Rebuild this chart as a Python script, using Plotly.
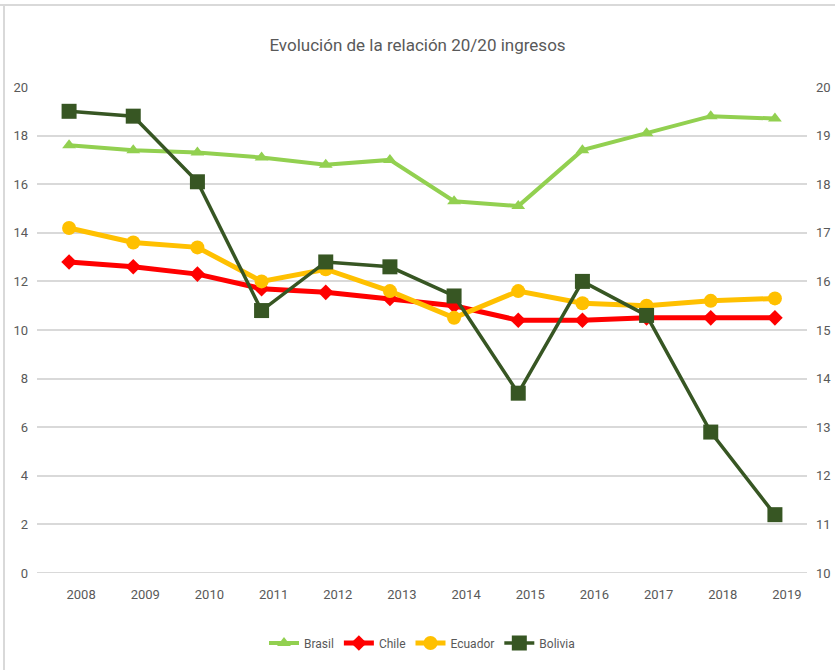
import plotly.graph_objects as go

years = ["2008", "2009", "2010", "2011", "2012", "2013", "2014", "2015", "2016", "2017", "2018", "2019"]
brasil = [17.6, 17.4, 17.3, 17.1, 16.8, 17.0, 15.3, 15.1, 17.4, 18.1, 18.8, 18.7]
chile = [12.8, 12.6, 12.3, 11.7, 11.55, 11.3, 11.0, 10.4, 10.4, 10.5, 10.5, 10.5]
ecuador = [14.2, 13.6, 13.4, 12.0, 12.5, 11.6, 10.5, 11.6, 11.1, 11.0, 11.2, 11.3]
bolivia = [19.5, 19.4, 18.05, 15.4, 16.4, 16.3, 15.7, 13.7, 16.0, 15.3, 12.9, 11.2]

left_ticks = [0, 2, 4, 6, 8, 10, 12, 14, 16, 18, 20]
right_ticks = [10, 11, 12, 13, 14, 15, 16, 17, 18, 19, 20]

FONT = "Roboto, sans-serif"
GRAY = "#595959"

fig = go.Figure()
fig.add_trace(go.Scatter(x=years, y=brasil, name="Brasil", mode="lines+markers",
                         line=dict(color="#92D050", width=4),
                         marker=dict(symbol="triangle-up", size=12, color="#92D050")))
fig.add_trace(go.Scatter(x=years, y=chile, name="Chile", mode="lines+markers",
                         line=dict(color="#FF0000", width=5),
                         marker=dict(symbol="diamond", size=12, color="#FF0000")))
fig.add_trace(go.Scatter(x=years, y=ecuador, name="Ecuador", mode="lines+markers",
                         line=dict(color="#FFC000", width=5),
                         marker=dict(symbol="circle", size=14, color="#FFC000")))
fig.add_trace(go.Scatter(x=years, y=bolivia, name="Bolivia", mode="lines+markers",
                         yaxis="y2",
                         line=dict(color="#375623", width=3.5),
                         marker=dict(symbol="square", size=15, color="#375623")))

fig.update_layout(
    width=835, height=670,
    margin=dict(l=37, r=28, t=87, b=97, autoexpand=False),
    paper_bgcolor="white", plot_bgcolor="white",
    font=dict(family=FONT, color=GRAY, size=13),
    title=dict(text="Evolución de la relación 20/20 ingresos",
               x=0.5, xanchor="center", y=0.933, yanchor="middle",
               font=dict(family=FONT, size=17, color=GRAY)),
    xaxis=dict(type="category", range=[-0.5, len(years) - 0.5],
               showgrid=False, zeroline=False, showline=False,
               automargin=False,
               ticks="", tickfont=dict(size=13, color=GRAY),
               ticklabelshift=12, ticklabelstandoff=12),
    yaxis=dict(range=[0, 20], tickvals=left_ticks, showgrid=True, automargin=False,
               gridcolor="#D9D9D9", gridwidth=2, zeroline=False, showline=False,
               ticks="", tickfont=dict(size=13, color=GRAY), ticklabelstandoff=8),
    yaxis2=dict(range=[10, 20], tickvals=right_ticks, overlaying="y", side="right",
                automargin=False,
                showgrid=False, zeroline=False, showline=False, ticks="",
                tickfont=dict(size=13, color=GRAY), ticklabelstandoff=8),
    legend=dict(orientation="h", x=0.5, xanchor="center", y=-0.144, yanchor="middle",
                font=dict(size=12, color=GRAY), itemwidth=30,
                tracegroupgap=0),
    showlegend=True,
    shapes=[
        dict(type="line", xref="paper", yref="y", x0=0, x1=1, y0=0, y1=0,
             layer="below", line=dict(color="#D9D9D9", width=2)),
        dict(type="line", xref="paper", yref="paper", x0=-0.05, x1=1.05,
             y0=(573 - 5) / 486, y1=(573 - 5) / 486,
             line=dict(color="#D9D9D9", width=2)),
        dict(type="line", xref="paper", yref="paper", x0=(4 - 37) / 770, x1=(4 - 37) / 770,
             y0=-0.3, y1=(573 - 5) / 486,
             line=dict(color="#D9D9D9", width=2)),
    ],
)

fig.write_html("out.html", config={"displayModeBar": False},
               post_script="document.body.style.margin='0px';document.body.style.overflow='hidden';")
